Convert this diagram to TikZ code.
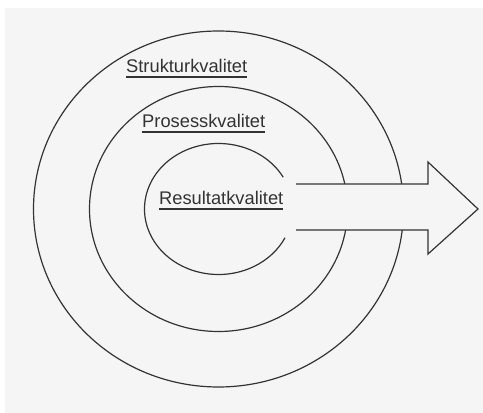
\documentclass[tikz,border=0pt]{standalone}
\usepackage{fontspec}
\setmainfont{Liberation Sans}
\begin{document}
\begin{tikzpicture}[x=1pt,y=1pt,
  ring/.style={draw=black!80, line width=1.2pt},
  lbl/.style={inner sep=0pt, anchor=base west, text=black!80, font=\fontsize{18.3}{20}\selectfont},
  uline/.style={draw=black!80, line width=1.3pt},
  arrowline/.style={draw=black!80, line width=1.2pt, line join=miter}]
\useasboundingbox (0,0) rectangle (483,413);
\fill[white] (0,0) rectangle (483,413);
\fill[black!4] (5,0) rectangle (483,405);
\coordinate (c) at (218.5,204);
% rings
\draw[ring] (c) ellipse [x radius=185, y radius=178];
\draw[ring] (c) ellipse [x radius=129, y radius=122.5];
\draw[ring] (c) ++(29:74 and 65.5) arc [start angle=29, end angle=334, x radius=74, y radius=65.5];
% arrow
\coordinate (s1) at (296,229);
\coordinate (b1) at (428,229);
\coordinate (h1) at (428,251);
\coordinate (tip) at (478,204);
\coordinate (h2) at (428,159);
\coordinate (b2) at (428,183);
\coordinate (s2) at (296,183);
\fill[black!4] (s1) -- (b1) -- (h1) -- (tip) -- (h2) -- (b2) -- (s2) -- cycle;
\draw[arrowline] (s1) -- (b1) -- (h1) -- (tip) -- (h2) -- (b2) -- (s2);
% labels
\node[lbl] (struk) at (126,340) {Strukturkvalitet};
\node[lbl] (pros) at (142,285) {Prosesskvalitet};
\node[lbl] (res) at (159,208) {Resultatkvalitet};
\draw[uline] ([yshift=-4pt]struk.base west) -- ([yshift=-4pt]struk.base east);
\draw[uline] ([yshift=-4pt]pros.base west) -- ([yshift=-4pt]pros.base east);
\draw[uline] ([yshift=-4pt]res.base west) -- ([yshift=-4pt]res.base east);
\end{tikzpicture}
\end{document}
